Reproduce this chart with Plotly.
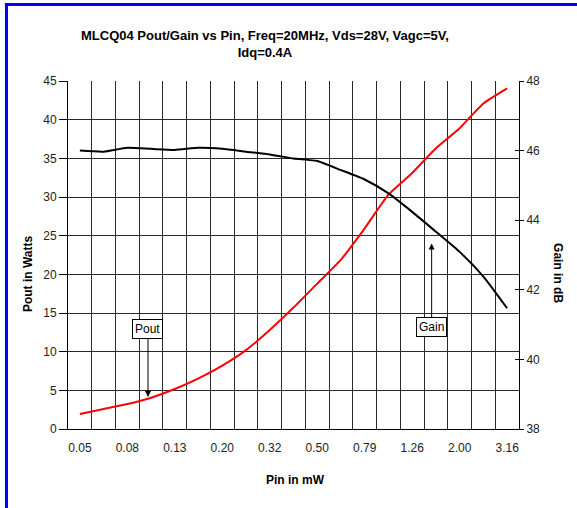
import plotly.graph_objects as go

# Pin in mW for each of the 19 measurement steps (1 dB apart)
pin_mw = [0.05, 0.06, 0.08, 0.10, 0.13, 0.16, 0.20, 0.25, 0.32, 0.40,
          0.50, 0.63, 0.79, 1.00, 1.26, 1.58, 2.00, 2.51, 3.16]
pin_labels = ["0.05", "", "0.08", "", "0.13", "", "0.20", "", "0.32", "",
              "0.50", "", "0.79", "", "1.26", "", "2.00", "", "3.16"]
pout_w = [1.94, 2.59, 3.23, 4.05, 5.17, 6.55, 8.19, 10.2, 12.8, 15.7,
          18.8, 21.9, 25.95, 30.3, 33.1, 36.3, 38.9, 42.1, 44.06]
gain_db = [46.00, 45.97, 46.08, 46.05, 46.02, 46.08, 46.05, 45.97, 45.89, 45.77,
           45.70, 45.44, 45.17, 44.77, 44.24, 43.67, 43.09, 42.38, 41.47]

idx = list(range(len(pin_mw)))
tick_idx = [i for i in idx if pin_labels[i]]
tick_txt = [pin_labels[i] for i in tick_idx]

FONT = "Liberation Sans, Arial, sans-serif"
GRID = "#2a2a2a"

fig = go.Figure()
fig.add_trace(go.Scatter(x=idx, y=pout_w, mode="lines", name="Pout",
                         line=dict(color="#ff0000", width=2, shape="spline", smoothing=0.5),
                         yaxis="y"))
fig.add_trace(go.Scatter(x=idx, y=gain_db, mode="lines", name="Gain",
                         line=dict(color="#000000", width=2, shape="spline", smoothing=0.5),
                         yaxis="y2"))
# invisible trace to activate third (tick-only) axis
fig.add_trace(go.Scatter(x=[idx[0]], y=[gain_db[0]], mode="lines", yaxis="y3",
                         showlegend=False, hoverinfo="skip", line=dict(width=0)))

fig.update_layout(
    width=577, height=508,
    margin=dict(l=68, r=58, t=81, b=79),
    paper_bgcolor="white", plot_bgcolor="white",
    showlegend=False,
    font=dict(family=FONT, size=12, color="#222"),
    xaxis=dict(range=[-0.5, len(idx) - 0.5], tickmode="array", tickvals=tick_idx,
               ticktext=tick_txt, showgrid=False, ticks="", zeroline=False,
               showline=True, linecolor="#000", linewidth=1,
               ticklabelstandoff=8,
               tickfont=dict(size=12, color="#222"),
               minor=dict(tick0=-0.5, dtick=1, showgrid=True, gridcolor=GRID,
                          gridwidth=1, ticks="")),
    yaxis=dict(range=[0, 45], dtick=5, showgrid=True, gridcolor=GRID, gridwidth=1,
               ticks="outside", ticklen=8, tickcolor="#000", zeroline=False,
               showline=True, linecolor="#000", linewidth=1,
               tickfont=dict(size=12, color="#222")),
    yaxis2=dict(range=[38, 48], dtick=2, overlaying="y", side="right",
                showgrid=False, zeroline=False, ticks="outside", ticklen=4,
                tickcolor="#000", showline=True, linecolor="#000", linewidth=1,
                tickfont=dict(size=12, color="#222")),
    yaxis3=dict(range=[38, 48], dtick=2, overlaying="y", side="right",
                showgrid=False, zeroline=False, ticks="inside", ticklen=4,
                tickcolor="#000", showticklabels=False, showline=False),
)

annotations = [
    dict(text="<b>MLCQ04 Pout/Gain vs Pin, Freq=20MHz, Vds=28V, Vagc=5V,<br>Idq=0.4A</b>",
         xref="paper", yref="paper", x=0.4368, y=1.105, xanchor="center", yanchor="middle",
         showarrow=False, font=dict(family="Liberation Sans, Arial", size=13, color="#000")),
    dict(text="<b>Pin in mW</b>", xref="paper", yref="paper", x=0.5055, y=-0.1466,
         xanchor="center", yanchor="middle", showarrow=False,
         font=dict(size=12, color="#000")),
    dict(text="<b>Pout in Watts</b>", xref="paper", yref="paper", x=-0.0887, y=0.448,
         xanchor="center", yanchor="middle", showarrow=False, textangle=-90,
         font=dict(size=12, color="#000")),
    dict(text="<b>Gain in dB</b>", xref="paper", yref="paper", x=1.0865, y=0.448,
         xanchor="center", yanchor="middle", showarrow=False, textangle=90,
         font=dict(size=12, color="#000")),
    dict(text="Pout", x=2.87, y=4.14, xref="x", yref="y", ax=0, ay=-68,
         showarrow=True, arrowhead=2, arrowsize=1.2, arrowwidth=1, arrowcolor="#000",
         bordercolor="#000", borderwidth=1, borderpad=2, bgcolor="white",
         font=dict(size=12, color="#000")),
    dict(text="Gain", x=14.82, y=24.0, xref="x", yref="y", ax=0, ay=84,
         showarrow=True, arrowhead=2, arrowsize=1.2, arrowwidth=1, arrowcolor="#000",
         bordercolor="#000", borderwidth=1, borderpad=2, bgcolor="white",
         font=dict(size=12, color="#000")),
]
fig.update_layout(annotations=annotations)

fig.update_layout(shapes=[
    dict(type="line", xref="paper", yref="paper", x0=-0.14, x1=1.2, y0=1.2198, y1=1.2198,
         line=dict(color="#0000ff", width=3)),
    dict(type="line", xref="paper", yref="paper", x0=-0.1364, x1=-0.1364, y0=1.224, y1=-0.25,
         line=dict(color="#0000ff", width=3)),
])

fig.write_html("out.html")
